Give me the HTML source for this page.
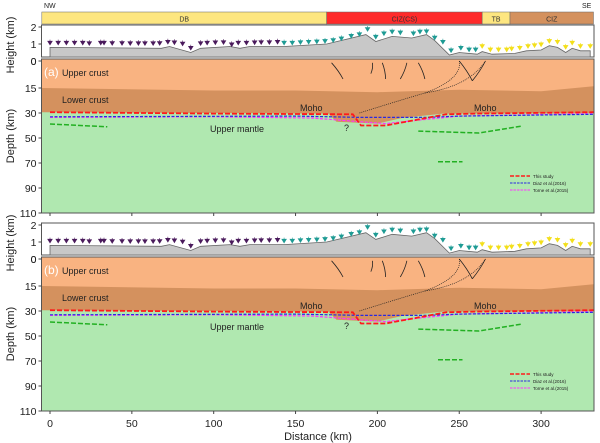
<!DOCTYPE html>
<html><head><meta charset="utf-8"><style>
body{margin:0;background:#fff;}
svg{display:block;font-family:"Liberation Sans","DejaVu Sans",sans-serif;}
</style></head><body>
<svg id="fig" width="600" height="443" viewBox="0 0 600 443"></svg>
<script>
// ---- data ----
const xTicks=[0,50,100,150,200,250,300];
const depthTicks=[0,15,30,50,70,90,110];
const heightTicks=[0,1,2];
const zoneNames=['DB','CIZ(CS)','TB','CIZ'];
const zoneStart=[-5,169,264,281];
const zoneEnd=[169,264,281,332];
const zoneColors=['#fde680','#ff2a2a','#fde680','#d4915e'];
const topoKm=[0,68,73,86,92,110,116,122,143,169,193,199,209,221,230,235,244,250,261,264,270,284,291,300,305,310,315,319,324,330];
const topoH=[0.8,0.75,0.85,0.5,0.75,0.85,0.75,0.85,0.85,1.0,1.55,1.15,1.45,1.35,1.55,1.2,0.35,0.5,0.4,0.55,0.4,0.45,0.6,0.65,0.9,0.8,0.5,0.75,0.6,0.6];
const stPurpleKm=[0,5,10,15,20,24,31,33,38,44,49,54,58,63,67,72,76,81,86,92,96,101,106,111,115,120,125,129,134,139];
const stPurpleH=[1.05,1.05,1.05,1.05,1.05,1.02,1.05,1.05,1.03,1.03,1.02,1.02,1.02,1.02,1.03,1.1,1.07,1.0,0.75,1.02,1.05,1.07,1.08,0.95,1.05,1.05,1.07,1.08,1.08,1.1];
const stTealKm=[143,148,153,158,163,168,173,178,184,189,194,199,204,209,214,222,226,230,235,240,245,251,256,260];
const stTealH=[1.05,1.05,1.08,1.1,1.12,1.15,1.2,1.3,1.45,1.55,1.85,1.4,1.6,1.7,1.65,1.6,1.7,1.72,1.35,1.1,0.6,0.75,0.65,0.65];
const stYellowKm=[264,269,274,279,282,287,292,296,300,305,310,315,319,324,330];
const stYellowH=[0.85,0.65,0.65,0.65,0.7,0.75,0.85,0.9,0.95,1.15,1.1,0.8,1.05,0.85,0.85];
const ulKm=[-5,100,150,200,250,300,332];
const ulDepth=[15,16.5,16.5,17.5,16,17,14];
const mohoFillKm=[-5,170,175,200,215,240,332];
const mohoFillDepth=[29.5,30.5,37,38.5,34,30.5,30];
const redKm=[0,100,185,190,205,242,260,332];
const redDepth=[29.5,30.5,31,40,40,31,30.5,29.5];
const blueKm=[0,150,190,230,250,332];
const blueDepth=[33,32.5,33.5,33.5,32.5,31];
const magKm=[0,100,160,190,205,230,250,332];
const magDepth=[33.5,33,34,37,38.5,35,32.5,30.5];
const green1Km=[0,35];const green1Depth=[38.8,41];
const green2Km=[225,262,288];const green2Depth=[44.5,46,40.5];
const green3Km=[237,252];const green3Depth=[69,69];
// ---- scales ----
const NS='http://www.w3.org/2000/svg';
const svg=document.getElementById('fig');
function X(km){return 50+km*1.637;}
const dKnots=[0,15,30,110],yKnots=[61,88,113,213];
function D(d,off){for(let i=0;i<dKnots.length-1;i++){if(d<=dKnots[i+1]||i==dKnots.length-2){return yKnots[i]+(d-dKnots[i])*(yKnots[i+1]-yKnots[i])/(dKnots[i+1]-dKnots[i])+off;}}}
function H(h,off){return 61-17*h+off;}
function el(tag,attrs,parent,text){const e=document.createElementNS(NS,tag);for(const k in attrs)e.setAttribute(k,attrs[k]);if(text!==undefined)e.textContent=text;(parent||svg).appendChild(e);return e;}
function path(kms,ds,off){return kms.map((k,i)=>(i?'L':'M')+X(k).toFixed(1)+','+D(ds[i],off).toFixed(1)).join(' ');}
const L=41.5,R=594;
// ---- color bar ----
zoneNames.forEach((n,i)=>{
 const r=el('rect',{x:X(zoneStart[i]),y:12,width:X(zoneEnd[i])-X(zoneStart[i]),height:12,fill:zoneColors[i],stroke:'#666','stroke-width':0.5});
 
 
 const t=el('text',{x:(X(zoneStart[i])+X(zoneEnd[i]))/2,y:21.5,'font-size':7,'text-anchor':'middle',fill:'#333'},svg,n);
 
 
});
let t=el('text',{x:44,y:8,'font-size':7,fill:'#222'},svg,'NW');
t=el('text',{x:582,y:8,'font-size':7,fill:'#222'},svg,'SE');

function panel(off,label){
 const g=el('g',{});
 
 
 el('rect',{x:L,y:25+off,width:R-L,height:32,fill:'#fff',stroke:'#555','stroke-width':1},g);
 let tp='M'+X(topoKm[0])+','+(57+off);
 topoKm.forEach((k,i)=>{tp+=' L'+X(k).toFixed(1)+','+H(topoH[i],off).toFixed(1);});
 tp+=' L'+X(topoKm[topoKm.length-1])+','+(57+off)+'Z';
 const topo=el('path',{d:tp,fill:'#c8c8c8',stroke:'#666','stroke-width':0.8},g);
 
 
 [[stPurpleKm,stPurpleH,'#4a1a5c'],[stTealKm,stTealH,'#1e9b94'],[stYellowKm,stYellowH,'#f3df1a']].forEach(s=>{
  s[0].forEach((k,i)=>{const x=X(k),y=H(s[1][i],off);
   const st=el('path',{d:`M${x-2.3},${y-2} L${x+2.3},${y-2} L${x},${y+1.8}Z M${x},${y-2} L${x},${y-3.5}`,fill:s[2],stroke:s[2],'stroke-width':0.6},g);
   
   
  });
 });
 heightTicks.forEach(h=>{const y=H(h,off);el('line',{x1:L-3,x2:L,y1:y,y2:y,stroke:'#444'},g);
  el('text',{x:L-5,y:y+4,'font-size':10.5,'text-anchor':'end',fill:'#222'},g,String(h));});
 const top=59+off,bot=213+off;
 el('rect',{x:L,y:top,width:R-L,height:bot-top,fill:'#b0e8b0'},g);
 let lc='M'+L+','+top+' L'+R+','+top+' L'+R+','+D(30,off);
 for(let i=mohoFillKm.length-1;i>=0;i--)lc+=' L'+X(Math.max(mohoFillKm[i],-5.2)).toFixed(1)+','+D(mohoFillDepth[i],off).toFixed(1);
 lc+=' L'+L+','+D(29.5,off)+'Z';
 const lcr=el('path',{d:lc,fill:'#d4915e'},g);
 let uc='M'+L+','+top+' L'+R+','+top;
 for(let i=ulKm.length-1;i>=0;i--)uc+=' L'+X(ulKm[i]).toFixed(1)+','+D(ulDepth[i],off).toFixed(1);
 uc+='Z';
 const ucr=el('path',{d:uc,fill:'#f9b381'},g);
 // faults
 const fk=[[172,1,179,10],[197,1,196,7],[203,1,205,10],[218,1,214,10],[225,1,229,10],[250,0,258,11],[266,0,258,11]];
 fk.forEach(f=>{const p=el('path',{d:`M${X(f[0])},${D(f[1],off)} Q${X((f[0]+f[2])/2)+1.5},${D((f[1]+f[3])/2,off)} ${X(f[2])},${D(f[3],off)}`,fill:'none',stroke:'#222','stroke-width':0.8},g);
  });
 el('path',{d:`M${X(189)},${D(30,off)} Q${X(215)},${D(22,off)} ${X(229)},${D(18,off)} Q${X(252)},${D(10,off)} ${X(250)},${D(0,off)}`,fill:'none',stroke:'#222','stroke-width':0.7,'stroke-dasharray':'1,1'},g);
 el('path',{d:`M${X(229)},${D(18,off)} Q${X(256)},${D(14,off)} ${X(266)},${D(0,off)}`,fill:'none',stroke:'#222','stroke-width':0.7,'stroke-dasharray':'1,1'},g);
 const lines=[[magKm,magDepth,'#ff33ff',1.2,'3,1.5','torne-moho'],[blueKm,blueDepth,'#2a2ae0',1.2,'3,1.5','diaz-moho'],[redKm,redDepth,'#ff1a1a',1.8,'5,2','this-study-moho'],
  [green1Km,green1Depth,'#22b022',1.5,'5,2','green-reflector-1'],[green2Km,green2Depth,'#22b022',1.5,'5,2','green-reflector-2'],[green3Km,green3Depth,'#22b022',1.5,'5,2','green-reflector-3']];
 lines.forEach(l=>{const p=el('path',{d:path(l[0],l[1],off),fill:'none',stroke:l[2],'stroke-width':l[3],'stroke-dasharray':l[4]},g);
  });
 el('rect',{x:L,y:top,width:R-L,height:bot-top,fill:'none',stroke:'#555','stroke-width':1},g);
 depthTicks.forEach(d=>{const y=D(d,off);el('line',{x1:L-3,x2:L,y1:y,y2:y,stroke:'#444'},g);
  el('text',{x:L-5,y:y+4,'font-size':10.5,'text-anchor':'end',fill:'#222'},g,String(d));});
 xTicks.forEach(k=>{el('line',{x1:X(k),x2:X(k),y1:bot,y2:bot+3,stroke:'#444'},g);});
 el('text',{x:44,y:76+off,'font-size':12,fill:'#fff'},g,'('+label+')');
 el('text',{x:62,y:76+off,'font-size':9,fill:'#222'},g,'Upper crust');
 el('text',{x:62,y:103+off,'font-size':9,fill:'#222'},g,'Lower crust');
 el('text',{x:300,y:111+off,'font-size':9,fill:'#222'},g,'Moho');
 el('text',{x:474,y:111+off,'font-size':9,fill:'#222'},g,'Moho');
 el('text',{x:210,y:132+off,'font-size':9,fill:'#222'},g,'Upper mantle');
 el('text',{x:344,y:131+off,'font-size':9,fill:'#222'},g,'?');
 el('text',{x:10,y:41+off,'font-size':11,fill:'#222','text-anchor':'middle',transform:`rotate(-90 14 ${41+off})`},g,'Height (km)');
 el('text',{x:14,y:136+off,'font-size':11,fill:'#222','text-anchor':'middle',transform:`rotate(-90 14 ${136+off})`},g,'Depth (km)');
 const lg=[['This study','#ff1a1a','4,1.5',1.6],['Diaz et al.(2016)','#2a2ae0','2.5,1',1],['Torne et al.(2015)','#ff33ff','2.5,1',1]];
 lg.forEach((e,i)=>{const y=176+7*i+off;
  el('line',{x1:510,x2:530,y1:y,y2:y,stroke:e[1],'stroke-width':e[3],'stroke-dasharray':e[2]},g);
  el('text',{x:533,y:y+2,'font-size':4.5,fill:'#222'},g,e[0]);});
}
panel(0,'a');
panel(198,'b');
xTicks.forEach(k=>{const tx=el('text',{x:X(k),y:427,'font-size':10.5,'text-anchor':'middle',fill:'#222'},svg,String(k));
 });
t=el('text',{x:318,y:440,'font-size':11,'text-anchor':'middle',fill:'#222'},svg,'Distance (km)');

</script>
</body></html>
